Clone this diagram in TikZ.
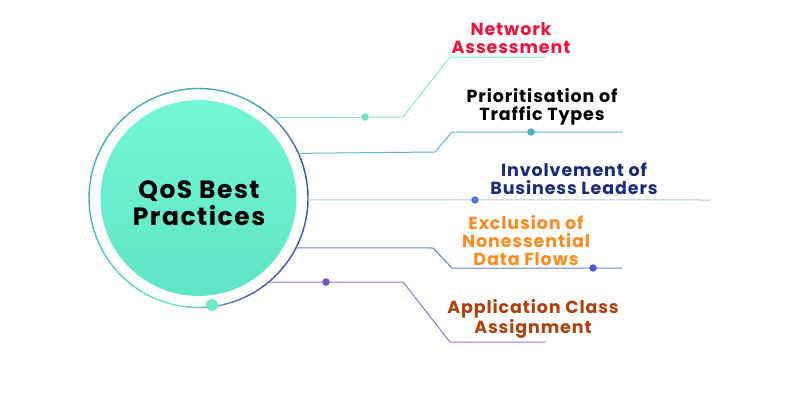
\documentclass[tikz,border=0pt]{standalone}
\usepackage{fontspec}
\setmainfont{Poppins}
\newfontfamily\titlefont{Poppins}[LetterSpace=6]
\newfontfamily\lblfont{Poppins}[LetterSpace=5]
\definecolor{ringM}{HTML}{6EE8C8}
\definecolor{ringB}{HTML}{4A5CC0}
\definecolor{ringBB}{HTML}{3C4EB0}
\definecolor{ringT}{HTML}{45AAC0}
\definecolor{ringTT}{HTML}{3CB8C0}
\definecolor{coreTop}{HTML}{74F7D5}
\definecolor{coreBot}{HTML}{5EE4C5}
\definecolor{lnA}{HTML}{86EAD4}
\definecolor{dotA}{HTML}{6DE8C8}
\definecolor{lnB}{HTML}{5AB6D2}
\definecolor{dotB}{HTML}{4AB0CC}
\definecolor{lnC}{HTML}{B4CAEA}
\definecolor{dotC}{HTML}{4A7CCC}
\definecolor{lnD}{HTML}{6A7ED8}
\definecolor{dotD}{HTML}{4A5CC8}
\definecolor{lnE}{HTML}{9A72D2}
\definecolor{dotE}{HTML}{7A50C0}
\definecolor{txA}{HTML}{F0143C}
\definecolor{txC}{HTML}{1A2A7C}
\definecolor{txD}{HTML}{FF8A1E}
\definecolor{txE}{HTML}{B0400C}
\tikzset{
  lbl/.style={anchor=base, align=center, inner sep=0pt, font=\lblfont\fontsize{17.5}{18}\selectfont\bfseries},
  conn/.style={line width=1pt},
  smalldot/.style={circle, inner sep=0pt, minimum size=7.5pt},
}
\begin{document}
\begin{tikzpicture}[x=1pt,y=1pt]
\useasboundingbox (0,0) rectangle (800,400);
\fill[white] (0,0) rectangle (800,400);
% centre
\coordinate (c) at (198.5,202);
\node[circle, minimum size=219pt, inner sep=0pt] (ring) at (c) {};
\shade[top color=coreTop, bottom color=coreBot] (c) circle (98pt);
\foreach \a/\b/\ca/\cb in {-100/-60/ringM/ringB, -60/10/ringB/ringBB, 10/60/ringBB/ringT, 60/180/ringT/ringTT, 180/260/ringTT/ringM}{
  \foreach \i in {0,...,9}{
    \pgfmathsetmacro\aa{\a+(\b-\a)*\i/10}
    \pgfmathsetmacro\bb{\a+(\b-\a)*(\i+1)/10+0.5}
    \pgfmathtruncatemacro\p{95-\i*10}
    \draw[line width=1.4pt, \ca!\p!\cb] ([shift={(\aa:109.5pt)}]c) arc[start angle=\aa, end angle=\bb, radius=109.5pt];
  }
}
\node[circle, fill=dotA, inner sep=0pt, minimum size=12pt] (bdot) at (212,95) {};
\node[align=center, inner sep=0pt, anchor=base, font=\titlefont\fontsize{25}{26.7}\selectfont\bfseries] (title) at (199,175) {QoS Best\\Practices};
% coordinates
\coordinate (a1) at (403,283); \coordinate (a2) at (450,343); \coordinate (a3) at (545,343);
\coordinate (b1) at (435,248); \coordinate (b2) at (452,268); \coordinate (b3) at (622,268);
\coordinate (c3) at (710,200);
\coordinate (d1) at (433,152); \coordinate (d2) at (452,132); \coordinate (d3) at (622,132);
\coordinate (e1) at (403,118); \coordinate (e2) at (450,58); \coordinate (e3) at (545,58);
% connectors
\draw[conn, lnA] (ring.47.7) -- (a1) -- (a2) -- (a3);
\draw[conn, lnB] (ring.24.8) -- (b1) -- (b2) -- (b3);
\draw[conn, lnC] (ring.-1.05) -- (c3);
\draw[conn, lnD] (ring.-27.2) -- (d1) -- (d2) -- (d3);
\draw[conn, lnE] (ring.-50.1) -- (e1) -- (e2) -- (e3);
% dots
\node[smalldot, fill=dotA] (da) at (365,283) {};
\node[smalldot, fill=dotB] (db) at (531,268) {};
\node[smalldot, fill=dotC] (dc) at (475,200) {};
\node[smalldot, fill=dotD] (dd) at (593,132) {};
\node[smalldot, fill=dotE] (de) at (326,118) {};
% labels
\node[lbl, text=txA] (la) at (511,346) {Network\\Assessment};
\node[lbl, text=black] (lb) at (542,280) {Prioritisation of\\Traffic Types};
\node[lbl, text=txC] (lc) at (574,206) {Involvement of\\Business Leaders};
\node[lbl, text=txD] (ld) at (526,134.3) {Exclusion of\\Nonessential\\Data Flows};
\node[lbl, text=txE, font=\lblfont\fontsize{17.5}{16.8}\selectfont\bfseries] (le) at (533,66.7) {Application Class\\Assignment};
\end{tikzpicture}
\end{document}
